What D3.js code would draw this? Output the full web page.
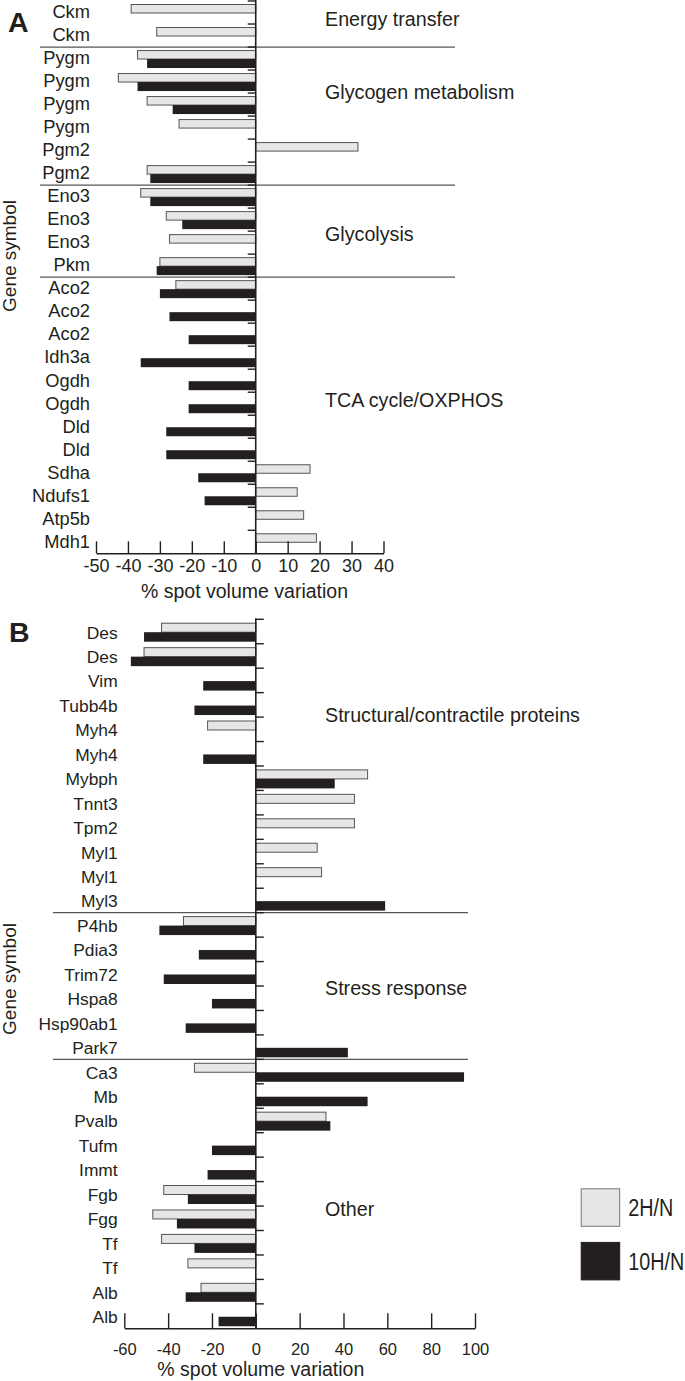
<!DOCTYPE html>
<html>
<head>
<meta charset="utf-8">
<script src="https://cdn.jsdelivr.net/npm/d3@7"></script>
<style>
  html, body { margin: 0; padding: 0; background: #fff; }
  svg { display: block; }
  text { font-family: "Liberation Sans", Arial, Helvetica, sans-serif; fill: #231f20; }
</style>
</head>
<body>
<svg id="chart" width="685" height="1381"></svg>
<script>
// ---------------- DATA ----------------
const series = ["2H/N", "10H/N"];

// Panel A
const genesA = ["Ckm","Ckm","Pygm","Pygm","Pygm","Pygm","Pgm2","Pgm2","Eno3","Eno3","Eno3","Pkm",
                "Aco2","Aco2","Aco2","Idh3a","Ogdh","Ogdh","Dld","Dld","Sdha","Ndufs1","Atp5b","Mdh1"];
const valsA_2H  = [-39,-31,-37,-43,-34,-24, 32,-34,-36,-28,-27,-30,
                   -25,null,null,null,null,null,null,null, 17, 13, 15, 19];
const valsA_10H = [null,null,-34,-37,-26,null,null,-33,-33,-23,null,-31,
                   -30,-27,-21,-36,-21,-21,-28,-28,-18,-16,null,null];
const groupsA = ["Energy transfer","Glycogen metabolism","Glycolysis","TCA cycle/OXPHOS"];
const groupStartA = [0, 2, 8, 12];
const ticksA = [-50,-40,-30,-20,-10,0,10,20,30,40];

// Panel B
const genesB = ["Des","Des","Vim","Tubb4b","Myh4","Myh4","Mybph","Tnnt3","Tpm2","Myl1","Myl1","Myl3",
                "P4hb","Pdia3","Trim72","Hspa8","Hsp90ab1","Park7",
                "Ca3","Mb","Pvalb","Tufm","Immt","Fgb","Fgg","Tf","Tf","Alb","Alb"];
const valsB_2H  = [-43,-51,null,null,-22,null, 51, 45, 45, 28, 30,null,
                   -33,null,null,null,null,null,
                   -28,null, 32,null,null,-42,-47,-43,-31,-25,null];
const valsB_10H = [-51,-57,-24,-28,null,-24, 36,null,null,null,null, 59,
                   -44,-26,-42,-20,-32, 42,
                    95, 51, 34,-20,-22,-31,-36,-28,null,-32,-17];
const groupsB = ["Structural/contractile proteins","Stress response","Other"];
const groupStartB = [0, 12, 18];
const ticksB = [-60,-40,-20,0,20,40,60,80,100];

// ---------------- LAYOUT ----------------
const ink = "#231f20";
const lightFill = "#e6e6e6", lightStroke = "#555";
const svg = d3.select("#chart");

function drawPanel(cfg) {
  const g = svg.append("g");
  const x = d3.scaleLinear().domain(cfg.xDomain).range(cfg.xRange);
  const y = d3.scaleBand().domain(d3.range(cfg.genes.length)).range(cfg.yRange);
  const sub = d3.scaleBand().domain(series).range(cfg.subRange);
  const x0 = x(0);

  // separators between groups
  g.selectAll("line.sep").data(cfg.groupStart.slice(1)).join("line")
    .attr("x1", cfg.sepX[0]).attr("x2", cfg.sepX[1])
    .attr("y1", d => y(d)).attr("y2", d => y(d))
    .attr("stroke", "#555").attr("stroke-width", 1.2);

  // bars
  const rows = cfg.genes.map((gname, i) => ({ i, v: [cfg.v2[i], cfg.v10[i]] }));
  const barData = [];
  rows.forEach(r => series.forEach((s, k) => {
    if (r.v[k] !== null) barData.push({ i: r.i, s, v: r.v[k] });
  }));
  g.selectAll("rect.bar").data(barData).join("rect")
    .attr("x", d => Math.min(x(d.v), x0))
    .attr("width", d => Math.abs(x(d.v) - x0))
    .attr("y", d => y(d.i) + sub(d.s) + (d.s === series[0] ? 0.5 : 0))
    .attr("height", d => sub.bandwidth() - (d.s === series[0] ? 0.5 : 0))
    .attr("fill", d => d.s === series[0] ? lightFill : ink)
    .attr("stroke", d => d.s === series[0] ? lightStroke : "none")
    .attr("stroke-width", 1);

  // zero line (category axis)
  g.append("line")
    .attr("x1", x0).attr("x2", x0)
    .attr("y1", cfg.yRange[0] - 1).attr("y2", cfg.yRange[1])
    .attr("stroke", ink).attr("stroke-width", 1.6);
  // row ticks
  g.selectAll("line.rt").data(y.domain()).join("line")
    .attr("x1", x0).attr("x2", x0 + cfg.rowTick)
    .attr("y1", d => y(d)).attr("y2", d => y(d))
    .attr("stroke", ink).attr("stroke-width", 1.4);

  // gene labels
  g.selectAll("text.gene").data(cfg.genes).join("text")
    .attr("x", cfg.labelX)
    .attr("y", (d, i) => y(i) + y.bandwidth() / 2 + cfg.labelDy)
    .attr("text-anchor", "end")
    .style("font-size", cfg.geneFont + "px")
    .text(d => d);

  // group labels
  cfg.groups.forEach((name, k) => {
    g.append("text")
      .attr("x", cfg.groupX)
      .attr("y", cfg.yRange[0] + cfg.groupRowPos[k] * y.step() + 7)
      .style("font-size", "19.7px")
      .text(name);
  });

  // x axis
  const axis = d3.axisBottom(x).tickValues(cfg.ticks).tickSize(-cfg.xTick).tickSizeOuter(0)
    .tickFormat(d => String(d));
  const ax = g.append("g").attr("transform", `translate(0,${cfg.yRange[1]})`).call(axis);
  ax.select(".domain").attr("stroke", ink).attr("stroke-width", 1.6);
  ax.selectAll(".tick line").attr("stroke", ink).attr("stroke-width", 1.4);
  ax.selectAll(".tick text")
    .attr("y", cfg.tickLabelDy).attr("dy", null)
    .attr("fill", ink)
    .style("font-family", '"Liberation Sans", Arial, sans-serif')
    .style("font-size", cfg.tickFont + "px");

  // axis title
  g.append("text")
    .attr("x", cfg.titleX).attr("y", cfg.titleY)
    .attr("text-anchor", "middle")
    .style("font-size", "19.5px")
    .text("% spot volume variation");

  // y title
  g.append("text")
    .attr("transform", `translate(15.5,${cfg.yTitleY}) rotate(-90)`)
    .attr("text-anchor", "middle")
    .style("font-size", "19px")
    .text("Gene symbol");

  // panel letter
  g.append("text")
    .attr("x", cfg.letterX).attr("y", cfg.letterY)
    .style("font-size", "28.5px").style("font-weight", "bold")
    .text(cfg.letter);
  return { x, y };
}

drawPanel({
  letter: "A", letterX: 8, letterY: 32,
  genes: genesA, v2: valsA_2H, v10: valsA_10H,
  groups: groupsA, groupStart: groupStartA, groupRowPos: [0.78, 3.97, 10.12, 17.33],
  ticks: ticksA,
  xDomain: [-50, 40], xRange: [96, 383.5],
  yRange: [1, 553.3], subRange: [3, 21],
  sepX: [40, 455], rowTick: -8,
  labelX: 90, labelDy: 5.8, geneFont: 18.3,
  groupX: 325,
  xTick: 12, tickLabelDy: 18.4, tickFont: 18,
  titleX: 244.5, titleY: 598,
  yTitleY: 256
});

drawPanel({
  letter: "B", letterX: 9, letterY: 641.5,
  genes: genesB, v2: valsB_2H, v10: valsB_10H,
  groups: groupsB, groupStart: groupStartB, groupRowPos: [3.90, 15.08, 24.1],
  ticks: ticksB,
  xDomain: [-60, 100], xRange: [124.3, 475],
  yRange: [619.3, 1328.3], subRange: [3.4, 22.4],
  sepX: [53, 468], rowTick: 8,
  labelX: 117.7, labelDy: 7, geneFont: 17.4,
  groupX: 325,
  xTick: 15, tickLabelDy: 26.7, tickFont: 16.5,
  titleX: 260.8, titleY: 1376,
  yTitleY: 979
});

// legend
const legend = svg.append("g").attr("transform", "translate(580.7,1188.3)");
const legItems = legend.selectAll("g").data(series).join("g")
  .attr("transform", (d, i) => `translate(0,${i * 53.6})`);
legItems.append("rect")
  .attr("x", 0.5).attr("y", 0.5).attr("width", 38.5).attr("height", 37.5)
  .attr("fill", (d, i) => i === 0 ? lightFill : ink)
  .attr("stroke", (d, i) => i === 0 ? "#777" : ink).attr("stroke-width", 1);
legItems.append("text")
  .attr("transform", "translate(47.6,27.7) scale(0.86,1)")
  .style("font-size", "23px")
  .text(d => d);
</script>
</body>
</html>
